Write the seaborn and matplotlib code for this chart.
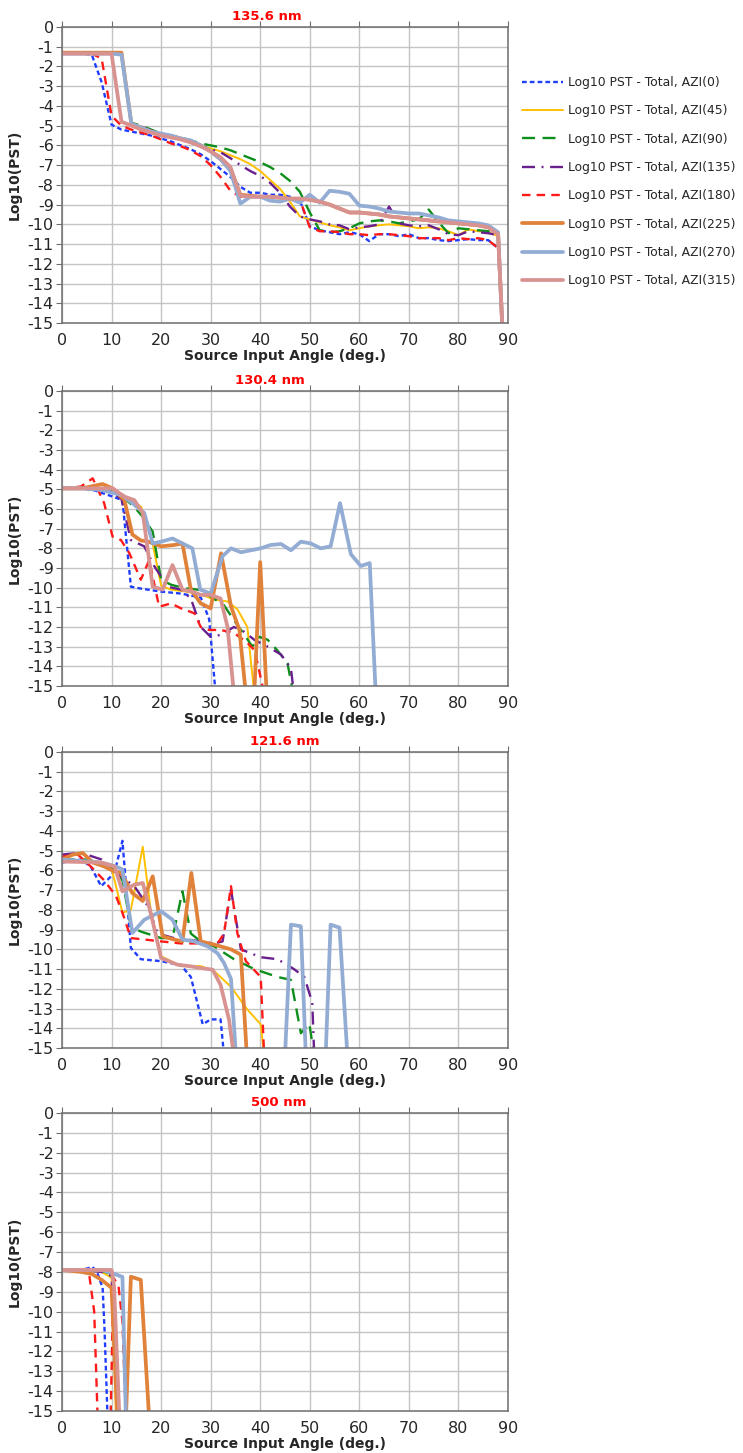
import matplotlib
matplotlib.use("Agg")
import matplotlib.pyplot as plt
import seaborn as sns

# wavelength panels, top to bottom
titles = ["135.6 nm", "130.4 nm", "121.6 nm", "500 nm"]
azimuths = [0, 45, 90, 135, 180, 225, 270, 315]

# values below -15 are off the chart (clipped by the axis)
ang_2deg = [0, 2, 4, 6, 8, 10, 12, 14, 16, 18, 20, 22, 24, 26, 28, 30, 32, 34, 36, 38, 40, 42, 44,
            46, 48, 50, 52, 54, 56, 58, 60, 62, 64, 66, 68, 70, 72, 74, 76, 78, 80, 82, 84, 86, 88, 89]

pst_1356 = {
    0: (ang_2deg, [-1.35, -1.35, -1.35, -1.4, -2.8, -4.95, -5.2, -5.3, -5.4, -5.5, -5.65, -5.8, -6.0, -6.2,
                   -6.45, -6.8, -7.2, -7.6, -8.1, -8.4, -8.4, -8.5, -8.5, -8.6, -8.8, -10.1, -10.3, -10.4,
                   -10.5, -10.4, -10.5, -10.85, -10.5, -10.5, -10.6, -10.5, -10.7, -10.7, -10.8, -10.85,
                   -10.8, -10.75, -10.8, -10.8, -11.2, -16]),
    45: (ang_2deg, [-1.35, -1.35, -1.35, -1.35, -1.35, -1.35, -1.35, -4.9, -5.05, -5.25, -5.4, -5.55, -5.7,
                    -5.85, -6.0, -6.15, -6.3, -6.5, -6.7, -6.95, -7.3, -7.75, -8.2, -8.85, -9.6, -9.75, -9.9,
                    -10.05, -10.15, -10.3, -10.2, -10.1, -10.05, -10.0, -10.05, -10.1, -10.2, -10.15, -10.2,
                    -10.35, -10.55, -10.25, -10.35, -10.4, -10.6, -16]),
    90: (ang_2deg, [-1.35, -1.35, -1.35, -1.35, -1.35, -1.35, -1.35, -4.85, -5.0, -5.2, -5.4, -5.5, -5.6,
                    -5.75, -5.9, -6.0, -6.1, -6.25, -6.45, -6.65, -6.85, -7.1, -7.4, -7.8, -8.35, -9.4,
                    -10.3, -10.4, -10.35, -10.2, -9.95, -9.85, -9.8, -9.85, -9.95, -9.85, -9.75, -9.25,
                    -9.9, -10.45, -10.2, -10.25, -10.3, -10.35, -10.5, -16]),
    135: (ang_2deg, [-1.35, -1.35, -1.35, -1.35, -1.35, -1.35, -1.35, -4.9, -5.05, -5.25, -5.4, -5.55, -5.7,
                     -5.85, -6.0, -6.2, -6.35, -6.65, -7.0, -7.3, -7.55, -7.9, -8.4, -9.1, -9.6, -9.75,
                     -9.85, -10.0, -10.05, -10.25, -10.15, -10.1, -10.0, -9.1, -9.95, -10.05, -10.1, -10.05,
                     -10.25, -10.5, -10.55, -10.35, -10.4, -10.45, -10.55, -16]),
    180: (ang_2deg, [-1.35, -1.35, -1.35, -1.35, -1.6, -4.5, -5.0, -5.2, -5.35, -5.5, -5.7, -5.9, -6.05,
                     -6.25, -6.55, -7.0, -7.6, -8.3, -8.6, -8.6, -8.6, -8.6, -8.65, -8.7, -8.75, -10.15,
                     -10.35, -10.35, -10.4, -10.5, -10.5, -10.55, -10.5, -10.5, -10.55, -10.6, -10.7, -10.7,
                     -10.7, -10.8, -10.7, -10.75, -10.7, -10.8, -11.2, -16]),
    225: (ang_2deg, [-1.3, -1.3, -1.3, -1.3, -1.3, -1.3, -1.3, -4.9, -5.1, -5.3, -5.45, -5.55, -5.65, -5.8,
                     -6.0, -6.3, -6.7, -7.2, -8.5, -8.55, -8.6, -8.6, -8.65, -8.7, -8.7, -8.75, -8.85, -9.0,
                     -9.2, -9.4, -9.4, -9.45, -9.5, -9.6, -9.65, -9.7, -9.75, -9.8, -9.85, -9.9, -9.95,
                     -10.0, -10.05, -10.15, -10.5, -16]),
    270: (ang_2deg, [-1.35, -1.35, -1.35, -1.35, -1.35, -1.35, -1.4, -4.9, -5.1, -5.3, -5.4, -5.5, -5.65,
                     -5.75, -6.0, -6.3, -6.7, -7.3, -8.95, -8.6, -8.6, -8.8, -8.85, -8.7, -8.9, -8.5, -8.9,
                     -8.3, -8.35, -8.45, -9.05, -9.1, -9.2, -9.35, -9.4, -9.45, -9.45, -9.55, -9.65, -9.8,
                     -9.85, -9.9, -9.95, -10.05, -10.4, -16]),
    315: (ang_2deg, [-1.35, -1.35, -1.35, -1.35, -1.35, -1.35, -4.8, -5.0, -5.2, -5.35, -5.5, -5.6, -5.7,
                     -5.85, -6.05, -6.3, -6.6, -7.1, -8.55, -8.6, -8.6, -8.6, -8.65, -8.7, -8.7, -8.75,
                     -8.85, -9.0, -9.2, -9.4, -9.4, -9.45, -9.5, -9.6, -9.65, -9.7, -9.75, -9.8, -9.85,
                     -9.9, -9.95, -10.0, -10.05, -10.15, -10.5, -16]),
}

pst_1304 = {
    0: ([0, 4, 6.5, 10, 12.2, 13.9, 16, 20, 24, 28, 29.7, 31],
        [-4.95, -4.95, -5.05, -5.35, -5.55, -9.95, -10.05, -10.2, -10.3, -10.5, -11.6, -15.4]),
    45: ([0, 4, 8, 10, 12, 14, 16, 18, 20, 22, 25, 28, 30.7, 33.4, 35.4, 37.4, 38.8],
         [-4.95, -4.95, -4.95, -5.0, -5.3, -5.55, -5.9, -7.4, -9.9, -10.1, -10.2, -10.35, -10.6, -10.7,
          -11.1, -12.0, -15.4]),
    90: ([0, 4, 8, 10, 12.2, 14.6, 16.3, 18.3, 20, 22, 24.7, 27.4, 30, 32.7, 35.1, 37.1, 38.4, 39.8, 41.5,
          43.5, 45.5, 46.7],
         [-4.95, -4.95, -4.95, -5.0, -5.37, -5.9, -6.4, -7.15, -9.6, -9.85, -10.03, -10.1, -10.45, -10.9,
          -11.8, -12.5, -13.0, -12.5, -12.65, -13.2, -13.85, -15.4]),
    135: ([0, 4, 8, 10, 12, 13.9, 16.6, 18.6, 21.3, 24, 26, 28, 30, 32, 34.7, 36.8, 38.8, 41.5, 44.2, 46.2,
           46.8],
          [-4.95, -4.95, -4.95, -5.1, -5.5, -7.58, -7.9, -8.9, -9.95, -10.1, -10.55, -12.0, -12.5, -12.4,
           -12.0, -12.25, -12.65, -13.0, -13.4, -14.1, -15.4]),
    180: ([0, 3.8, 6.2, 8.5, 10.2, 11.9, 13.6, 15.9, 17.6, 19.6, 22, 24, 26.7, 28, 29.7, 32, 34.7, 37.4,
           38.9, 40.8],
          [-4.95, -4.86, -4.44, -5.7, -7.4, -7.58, -8.25, -9.6, -8.6, -10.97, -10.8, -11.05, -11.3, -12.0,
           -12.15, -12.15, -12.3, -12.8, -13.2, -15.4]),
    225: ([0, 4, 8.2, 10.2, 12.6, 14.2, 15.9, 17.3, 20, 22.6, 24.3, 26, 28, 30, 32.1, 34.1, 35.8, 37.1,
           38.8, 40, 41.3],
          [-4.95, -4.95, -4.73, -4.95, -5.55, -7.3, -7.6, -7.65, -7.9, -7.83, -7.75, -10.1, -10.8, -11.05,
           -8.25, -10.95, -12.15, -15.4, -15.4, -8.7, -15.4]),
    270: ([0, 4, 7.9, 12.2, 16.6, 18.3, 20, 22.3, 24.3, 26.3, 27.9, 30, 32.4, 34.1, 36.1, 38.1, 40.1, 42.1,
           44.2, 46.2, 48.2, 50.2, 52.2, 54.2, 56.1, 58.3, 60.3, 62.1, 63.3],
          [-4.95, -4.95, -5.03, -5.3, -6.2, -7.75, -7.66, -7.5, -7.75, -8.0, -10.1, -10.3, -8.4, -8.0,
           -8.2, -8.1, -8.0, -7.83, -7.78, -8.1, -7.66, -7.75, -8.0, -7.9, -5.7, -8.3, -8.9, -8.75,
           -15.4]),
    315: ([0, 4, 7.9, 10.2, 12.6, 14.6, 16.3, 18.3, 20.3, 22.3, 24.3, 26.3, 28, 30, 32, 33.4, 34.7],
          [-4.95, -4.95, -4.95, -4.95, -5.37, -5.55, -6.2, -9.95, -10.1, -8.85, -10.1, -10.2, -10.37,
           -10.37, -10.55, -12.0, -15.4]),
}

pst_1216 = {
    0: ([0, 3.8, 5.8, 7.9, 9.9, 10.9, 12.2, 13.9, 15.9, 20, 24, 26, 28.4, 30, 32, 32.7],
        [-5.6, -5.45, -5.8, -6.8, -6.3, -5.8, -4.5, -9.93, -10.5, -10.6, -10.8, -11.4, -13.8, -13.55,
         -13.55, -15.4]),
    45: ([0, 5.8, 9.9, 10.9, 12.2, 13.9, 16.3, 17.9, 20, 24, 28, 30.7, 34.1, 37.4, 40.1, 40.8],
         [-5.45, -5.6, -5.8, -6.8, -8.15, -8.0, -4.8, -8.0, -10.35, -10.85, -10.85, -11.1, -11.9, -13.05,
          -13.8, -15.4]),
    90: ([0, 5.2, 9.9, 12.2, 13.9, 15.9, 20, 22.3, 24.3, 26, 28, 30.7, 34.7, 38.8, 43.5, 46.2, 48.2, 49.9,
          50.9],
         [-5.45, -5.45, -5.8, -6.5, -8.85, -9.1, -9.43, -9.43, -7.06, -9.2, -9.6, -9.85, -10.5, -11.0,
          -11.4, -11.55, -14.25, -13.75, -15.4]),
    135: ([0, 3.8, 8, 11.9, 14.6, 17.3, 19.3, 22.6, 25.3, 28, 30.7, 32.4, 34.1, 36.1, 40.1, 43.5, 46.8,
           48.9, 50.5, 50.9],
          [-5.2, -5.1, -5.45, -6.3, -6.8, -7.8, -9.2, -9.43, -9.5, -9.6, -9.7, -9.6, -6.98, -10.0, -10.4,
           -10.5, -11.0, -11.4, -12.7, -15.4]),
    180: ([0, 3.2, 5.8, 8.5, 10.9, 12.2, 13.9, 16.6, 20, 24, 28, 31.4, 32.7, 34.1, 35.4, 37.1, 40.1, 40.8],
          [-5.3, -5.2, -5.8, -6.5, -7.3, -8.15, -9.43, -9.5, -9.6, -9.7, -9.7, -9.7, -9.2, -6.8, -9.2,
           -10.6, -11.4, -15.4]),
    225: ([0, 2.2, 4.2, 6.2, 8.5, 10.6, 11.9, 14.2, 16.3, 18.3, 20.3, 22.6, 24.3, 26.1, 28, 30.7, 34.1,
           36.1, 37.3],
          [-5.45, -5.2, -5.12, -5.6, -5.8, -6.05, -6.13, -7.15, -7.55, -6.3, -9.34, -9.5, -9.6, -6.13,
           -9.6, -9.76, -10.0, -10.27, -15.4]),
    270: ([0, 7.9, 10.9, 12.2, 14.2, 16.6, 20, 22.3, 24.3, 26.7, 29.4, 31.4, 32.7, 34.1, 35.1, 45, 46.2,
           48.2, 49.2, 53.2, 54.2, 56, 57.6],
          [-5.45, -5.6, -5.8, -5.95, -9.17, -8.5, -8.07, -8.5, -9.5, -9.6, -9.85, -10.2, -10.7, -11.5,
           -15.4, -15.4, -8.75, -8.83, -15.4, -15.4, -8.75, -8.9, -15.4]),
    315: ([0, 7.9, 10.6, 12.2, 14.6, 16.3, 17.9, 20, 23.3, 26, 28, 30.4, 32, 33.7, 34.7],
          [-5.55, -5.6, -5.8, -7.06, -6.72, -6.64, -8.15, -10.44, -10.78, -10.86, -10.95, -11.03, -11.8,
           -13.56, -15.4]),
}

pst_500 = {
    0: ([0, 4, 6.2, 7.2, 8.2, 8.6, 9.2], [-7.9, -7.9, -7.75, -8.1, -8.8, -11.0, -15.4]),
    45: ([0, 4, 8, 10, 10.9], [-7.9, -7.9, -8.0, -8.3, -15.4]),
    90: ([0, 4, 8, 10, 11.6], [-7.9, -7.9, -7.95, -8.1, -15.4]),
    135: ([0, 4, 8, 10, 11.4], [-7.9, -7.9, -8.0, -8.2, -15.4]),
    180: ([0, 2, 4, 5.5, 6.5, 7.2, 9.8, 10.4, 11.4, 12.2, 12.9],
          [-7.9, -7.9, -8.0, -8.15, -10.0, -15.4, -15.4, -8.3, -8.7, -10.5, -15.4]),
    225: ([0, 4, 6, 8, 10, 11.2, 12.9, 13.9, 15.9, 17.6],
          [-7.9, -8.0, -8.1, -8.4, -8.8, -15.4, -15.4, -8.24, -8.4, -15.4]),
    270: ([0, 8, 10, 12.2, 12.9], [-7.9, -7.9, -8.05, -8.25, -15.4]),
    315: ([0, 10, 10.5, 11.6], [-7.9, -7.9, -8.7, -15.4]),
}

panels = [pst_1356, pst_1304, pst_1216, pst_500]

# line styles per azimuth (Excel look)
styles = {
    0: dict(color="#1f3dff", lw=1.7, ls=(0, (2.0, 1.3))),
    45: dict(color="#ffc000", lw=1.4, ls="-"),
    90: dict(color="#0e8f1c", lw=1.7, ls=(0, (5.5, 3.2))),
    135: dict(color="#6a1f8f", lw=1.7, ls=(0, (5.5, 2.8, 0.8, 2.8))),
    180: dict(color="#ff1a1a", lw=1.7, ls=(0, (3.6, 2.6))),
    225: dict(color="#e0823a", lw=2.7, ls="-"),
    270: dict(color="#93acd4", lw=2.7, ls="-"),
    315: dict(color="#d89391", lw=2.7, ls="-"),
}

sns.set_style("white")
plt.rcParams["font.family"] = ["DejaVu Sans"]
plt.rcParams["axes.unicode_minus"] = False

fig = plt.figure(figsize=(7.43, 14.53), dpi=100)
H = 1453.0
W = 743.0
tops = [27, 391, 752, 1113]
bottoms = [323, 686, 1048, 1411]
title_x = [0.46, 0.465, 0.50, 0.485]

axes = []
for i, data in enumerate(panels):
    ax = fig.add_axes([62 / W, 1 - bottoms[i] / H, 446 / W, (bottoms[i] - tops[i]) / H])
    for azi in azimuths:
        xs, ys = data[azi]
        st = styles[azi]
        sns.lineplot(x=xs, y=ys, ax=ax, color=st["color"], linewidth=st["lw"],
                     linestyle=st["ls"], estimator=None, sort=False, legend=False)
    ax.set_xlim(0, 90)
    ax.set_ylim(-15, 0)
    ax.set_xticks(range(0, 91, 10))
    ax.set_yticks(range(-15, 1, 1))
    ax.grid(True, color="#c4c4c4", linewidth=1.0)
    ax.set_axisbelow(True)
    for side in ["left", "right", "top", "bottom"]:
        ax.spines[side].set_color("#6e6e6e")
        ax.spines[side].set_linewidth(1.1)
    ax.tick_params(axis="x", top=True, bottom=False, labeltop=False, labelbottom=True,
                   direction="out", length=4, color="#6e6e6e", labelsize=11.5, pad=3)
    ax.tick_params(axis="y", left=True, direction="out", length=4, color="#6e6e6e",
                   labelsize=11.5, pad=2)
    ax.set_xlabel("Source Input Angle (deg.)", fontsize=10, fontweight="bold", labelpad=1)
    ax.set_ylabel("Log10(PST)", fontsize=10, fontweight="bold", labelpad=4)
    ax.text(title_x[i], 1.012, titles[i], transform=ax.transAxes, ha="center", va="bottom",
            color="#ff0000", fontsize=9.5, fontweight="bold")
    axes.append(ax)

handles = axes[0].get_lines()[:len(azimuths)]
labels = [f"Log10 PST - Total, AZI({a})" for a in azimuths]
fig.legend(handles, labels, loc="upper left", bbox_to_anchor=(522 / W, 1 - 76 / H),
           frameon=False, fontsize=8.9, handlelength=3.35, handletextpad=0.35,
           labelspacing=1.24, borderpad=0, borderaxespad=0)

fig.savefig("out.png", dpi=100)
